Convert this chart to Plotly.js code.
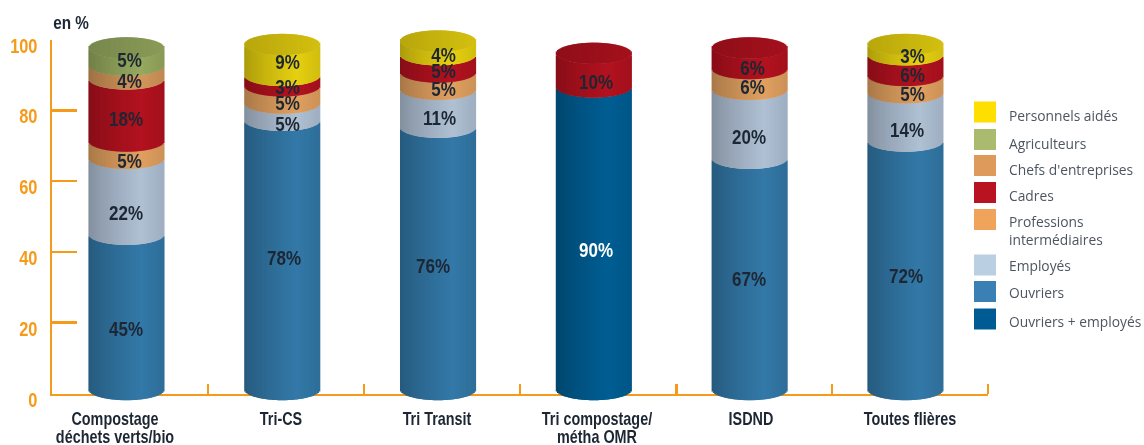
<!DOCTYPE html>
<html><head><meta charset="utf-8">
<script src="https://cdn.plot.ly/plotly-3.0.1.min.js"></script>
<style>html,body{margin:0;padding:0;background:#fff;overflow:hidden}#c{width:1144px;height:445px;filter:blur(0.45px)}</style>
</head><body><div id="c"></div>
<script>
// ---- data (percent labels); bottom to top of the stack
const categories = ["Compostage<br>déchets verts/bio","Tri-CS","Tri Transit","Tri compostage/<br>métha OMR","ISDND","Toutes flières"];
const seriesNames = ["Ouvriers + employés","Ouvriers","Employés","Professions<br>intermédiaires","Cadres","Chefs d'entreprises","Agriculteurs","Personnels aidés"];
const ouvriersEmployes = [null,null,null,90,null,null];
const ouvriers         = [45,78,76,null,67,72];
const employes         = [22,5,11,null,20,14];
const professions      = [5,5,5,null,6,5];
const cadres           = [18,3,5,10,6,6];
const chefs            = [4,null,null,null,null,null];
const agriculteurs     = [5,null,null,null,null,null];
const personnelsAides  = [null,9,4,null,null,3];
const allSeries = [ouvriersEmployes,ouvriers,employes,professions,cadres,chefs,agriculteurs,personnelsAides];
const barColors = ["#005e93","#3379a8","#afc0d4","#e0a060","#b3121f","#d2965a","#96a95f","#e6d010"];
const legendOrder  = [7,6,5,4,3,2,1,0];
const legendColors = ["#ffdf00","#aabb6f","#dd9a5a","#b91322","#f0a35a","#bbcfe3","#3a80b5","#005b94"];
const legendRowsPx = [112,139.5,165.5,192.5,219.5,265,291.5,319];
const legendTextPx = [116,143,169,196,231,265,292,321];
// ---- drawing parameters
const yTicks = [0,20,40,60,80,100];
const sepTicks = [0.523,1.525,2.527,3.53,4.53,5.53];
const labelCentersPx = [115,281,437,597,751,910];
const barScale = [0.975,0.975,0.975,0.95,0.975,0.975];
const labelDy = [[0,0,0,12,0,0],[17,3,8,0,5,11],[17,12,10,0,13,13],[11,8,8,0,8,10],[9,6,8,12,10,10],[9,0,0,0,0,0],[3,0,0,0,0,0],[0,2,7,0,0,6]];
const labelDx = [[0,0,0,2,0,0],[0,2,-5,0,-1,1],[0,5,1,0,-1,2],[3,5,5,0,3,7],[0,5,5,2,3,7],[3,0,0,0,0,0],[3,0,0,0,0,0],[0,5,5,0,0,7]];
const M = {l:52,r:156,t:20,b:40}, W = 1144, H = 445;
const axisTopPx = 39.5, axisBottomPx = 393.5, pxPerUnit = (axisBottomPx-axisTopPx)/100;
const plotW = W-M.l-M.r, plotH = H-M.t-M.b, plotBottom = H-M.b;
const orange = "#f59a1a", ink = "#1d2633";
const boldFont = "'Liberation Sans',sans-serif";
const xMin = -0.478, xMax = 5.53, halfW = 0.2407, depth = 3.0, yOrigin = 1.1, strips = 60;
const px2x = p => (p-M.l)/plotW, px2y = p => 1-(p-M.t)/plotH;
const xpx2data = p => xMin + (p-M.l)/plotW*(xMax-xMin);

function shade(hex,f){
  const n=parseInt(hex.slice(1),16);
  const c=[n>>16,(n>>8)&255,n&255].map(v=>Math.min(255,Math.round(v*f)));
  return `rgb(${c[0]},${c[1]},${c[2]})`;
}
const light = u => u<0.4 ? 0.74+0.26*Math.pow((u+1)/1.4,0.8) : 1-0.09*(u-0.4)/0.6;
const stripW = 2*halfW/strips;

const traces=[{type:"scatter",x:[null],y:[null],xaxis:"x",yaxis:"y",hoverinfo:"skip",showlegend:false}], annotations=[];
const tops = categories.map(()=>0), topSeries = categories.map(()=>0);
allSeries.forEach((vals,si)=>{
  const x=[],y=[],base=[],color=[];
  vals.forEach((v,ci)=>{
    if(v===null) return;
    const low=tops[ci]; tops[ci]+=v; topSeries[ci]=si;
    const s=barScale[ci], y0=yOrigin+s*low, h=s*v;
    for(let k=0;k<strips;k++){
      const u=-1+(2*k+1)/strips, sq=Math.sqrt(1-u*u);
      x.push(ci+u*halfW); y.push(h); base.push(y0-depth*sq);
      color.push(shade(barColors[si],light(u)));
    }
    annotations.push({x:ci,y:y0+h/2,xref:"x",yref:"y2",text:v+"%",showarrow:false,
      xshift:labelDx[si][ci],yshift:-labelDy[si][ci],
      font:{family:boldFont,size:20,color:(si===0?"#fff":ink),weight:700}});
  });
  traces.push({type:"bar",xaxis:"x",yaxis:"y2",x,y,base,width:x.map(()=>stripW*1.9),marker:{color,line:{width:0}},
    name:seriesNames[si].replace("<br>"," "),showlegend:false,cliponaxis:false,hoverinfo:"skip"});
});
// top caps
const cx=[],cy=[],cb=[],cc=[];
categories.forEach((_,ci)=>{
  const yc=yOrigin+barScale[ci]*tops[ci];
  for(let k=0;k<strips;k++){
    const u=-1+(2*k+1)/strips, sq=Math.sqrt(1-u*u);
    cx.push(ci+u*halfW); cy.push(2*depth*sq); cb.push(yc-depth*sq);
    cc.push(shade(barColors[topSeries[ci]],0.86+0.06*u));
  }
});
traces.push({type:"bar",xaxis:"x",yaxis:"y2",x:cx,y:cy,base:cb,width:cx.map(()=>stripW*1.9),marker:{color:cc,line:{width:0}},
  showlegend:false,cliponaxis:false,hoverinfo:"skip",name:"caps"});

annotations.push({xref:"paper",yref:"paper",x:px2x(48),y:px2y(23),xanchor:"left",yanchor:"middle",showarrow:false,text:"en %",
  font:{family:boldFont,size:18,color:ink,weight:700}});

// legend
const shapes=[];
legendOrder.forEach((si,i)=>{
  const cy=legendRowsPx[i];
  shapes.push({type:"rect",xref:"paper",yref:"paper",x0:px2x(974),x1:px2x(996),y0:px2y(cy-10.5),y1:px2y(cy+10.5),fillcolor:legendColors[i],line:{width:0}});
  annotations.push({xref:"paper",yref:"paper",x:px2x(1007),y:px2y(legendTextPx[i]),xanchor:"left",yanchor:"middle",align:"left",showarrow:false,
    text:seriesNames[si],font:{family:"'Open Sans','Noto Sans',sans-serif",size:13.8,color:"#4d5560"}});
});

Plotly.newPlot("c",traces,{
  width:W,height:H,margin:M,paper_bgcolor:"#fff",plot_bgcolor:"rgba(0,0,0,0)",barmode:"overlay",showlegend:false,hovermode:false,
  xaxis:{range:[xMin,xMax],anchor:"y",showgrid:false,zeroline:false,showline:true,linecolor:orange,linewidth:2.5,layer:"below traces",
    tickmode:"array",tickvals:labelCentersPx.map(xpx2data),ticktext:categories,ticks:"",ticklabelstandoff:7,
    minor:{tickmode:"array",tickvals:sepTicks,ticks:"inside",ticklen:10,tickwidth:2.5,tickcolor:orange},
    tickfont:{family:boldFont,size:18,color:ink,weight:700}},
  yaxis:{domain:[(plotBottom-axisBottomPx)/plotH,(plotBottom-axisTopPx)/plotH],range:[0,100],anchor:"x",showgrid:false,zeroline:false,showline:true,linecolor:orange,linewidth:2.5,layer:"below traces",
    tickmode:"array",tickvals:yTicks,ticks:"inside",ticklen:25,tickwidth:2.5,tickcolor:orange,
    ticklabelstandoff:8,ticklabelshift:6,
    tickfont:{family:boldFont,size:20,color:orange,weight:700}},
  yaxis2:{domain:[0,1],anchor:"x",visible:false,range:[(axisBottomPx-plotBottom)/pxPerUnit,(axisBottomPx-M.t)/pxPerUnit]},
  annotations,shapes
},{displayModeBar:false,staticPlot:true}).then(gd=>{
  // the reference type is a condensed bold: narrow the bold texts around their own centre / right edge
  const narrow=(el,sx,useRight)=>{
    const b=el.getBBox(), c=useRight?b.x+b.width:b.x+b.width/2, t=el.getAttribute("transform")||"";
    el.setAttribute("transform",`${t} translate(${c},0) scale(${sx},1) translate(${-c},0)`);
  };
  gd.querySelectorAll(".xtick text").forEach(el=>{
    el.querySelectorAll("tspan.line").forEach(l=>{ const d=l.getAttribute("dy"); if(d && parseFloat(d)>0) l.setAttribute("dy","1em"); });
    narrow(el,0.8,false);
  });
  gd.querySelectorAll(".ytick text").forEach(el=>narrow(el,0.82,true));
  gd.querySelectorAll(".annotation-text").forEach(el=>{ if(String(el.style.fontWeight)==="700") narrow(el,0.85,false); });
});
</script></body></html>
